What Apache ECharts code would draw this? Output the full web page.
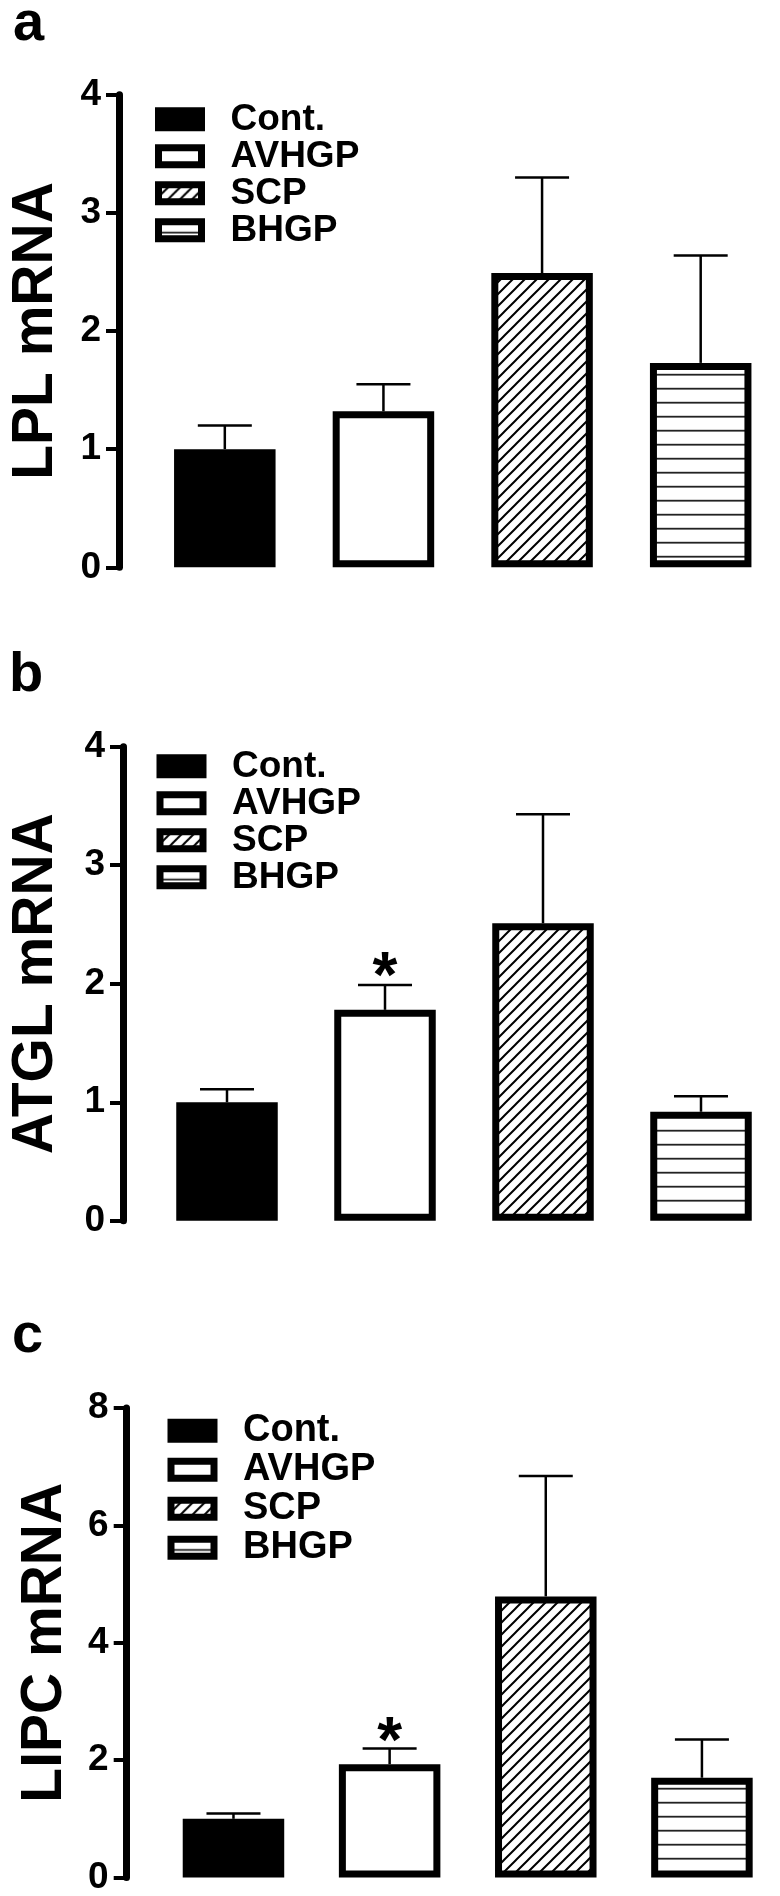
<!DOCTYPE html>
<html><head><meta charset="utf-8">
<script src="https://cdn.jsdelivr.net/npm/echarts@6/dist/echarts.min.js"></script>
<style>html,body{margin:0;padding:0;background:#fff}#c{width:780px;height:1896px}</style>
</head><body><div id="c"></div>
<script>
// ---- data ----
const categories = ['Cont.', 'AVHGP', 'SCP', 'BHGP'];
const panelLetters = ['a', 'b', 'c'];
const yTitles = ['LPL mRNA', 'ATGL mRNA', 'LIPC mRNA'];

const lplTicks = [0, 1, 2, 3, 4];
const lplMean = [1.0, 1.32, 2.49, 1.73];
const lplSem = [0.20, 0.23, 0.81, 0.91];
const lplSig = ['', '', '', ''];

const atglTicks = [0, 1, 2, 3, 4];
const atglMean = [1.0, 1.78, 2.51, 0.92];
const atglSem = [0.11, 0.21, 0.92, 0.13];
const atglSig = ['', '*', '', ''];

const lipcTicks = [0, 2, 4, 6, 8];
const lipcMean = [1.0, 1.93, 4.79, 1.70];
const lipcSem = [0.09, 0.27, 2.05, 0.65];
const lipcSig = ['', '*', '', ''];

// ---- styling ----
const FONT = '"Liberation Sans", Arial, Helvetica, sans-serif';

function diagPattern() {
  const s = 12, c = document.createElement('canvas');
  c.width = s; c.height = s;
  const g = c.getContext('2d');
  g.fillStyle = '#fff'; g.fillRect(0, 0, s, s);
  g.strokeStyle = '#000'; g.lineWidth = 2;
  g.beginPath();
  g.moveTo(-1, s + 1); g.lineTo(s + 1, -1);
  g.moveTo(-s / 2 - 1, s / 2 + 1); g.lineTo(s / 2 + 1, -s / 2 - 1);
  g.moveTo(s / 2 - 1, s * 1.5 + 1); g.lineTo(s * 1.5 + 1, s / 2 - 1);
  g.stroke();
  return c;
}
function horizPattern() {
  const c = document.createElement('canvas');
  c.width = 8; c.height = 14;
  const g = c.getContext('2d');
  g.fillStyle = '#fff'; g.fillRect(0, 0, 8, 14);
  g.fillStyle = '#222'; g.fillRect(0, 9.8, 8, 1.8);
  return c;
}
const fills = ['#000', '#fff',
  { image: diagPattern(), repeat: 'repeat' },
  { image: horizPattern(), repeat: 'repeat' }];

const panels = [
  { ticks: lplTicks, mean: lplMean, sem: lplSem, sig: lplSig,
    grid: { left: 136.25, top: 94.7, width: 650, height: 472.6 }, offset: 26.5, nameGap: 54,
    legend: { left: 155, top: 100.85, lh: 35, fs: 37 }, label: { x: 13, y: 25 }, starShift: 6 },
  { ticks: atglTicks, mean: atglMean, sem: atglSem, sig: atglSig,
    grid: { left: 145, top: 746.7, width: 652, height: 474.1 }, offset: 25, nameGap: 58,
    legend: { left: 156.5, top: 747.8, lh: 36, fs: 37 }, label: { x: 9, y: 676 }, starShift: 6 },
  { ticks: lipcTicks, mean: lipcMean, sem: lipcSem, sig: lipcSig,
    grid: { left: 155.4, top: 1408, width: 653, height: 474 }, offset: 28.7, nameGap: 53,
    legend: { left: 167.5, top: 1411.2, lh: 39, fs: 38 }, label: { x: 12, y: 1337 }, starShift: 4 }
];

const option = {
  animation: false,
  backgroundColor: '#fff',
  grid: [], xAxis: [], yAxis: [], legend: [], series: [], graphic: []
};

panels.forEach((p, i) => {
  option.grid.push(Object.assign({ containLabel: false }, p.grid));
  option.xAxis.push({
    type: 'category', gridIndex: i, data: categories,
    axisLine: { show: false }, axisTick: { show: false }, axisLabel: { show: false },
    splitLine: { show: false }
  });
  option.yAxis.push({
    type: 'value', gridIndex: i,
    min: p.ticks[0], max: p.ticks[p.ticks.length - 1], interval: p.ticks[1] - p.ticks[0],
    offset: p.offset,
    name: yTitles[i], nameLocation: 'middle', nameGap: p.nameGap, nameRotate: 90,
    nameTextStyle: { fontSize: 57, fontWeight: 'bold', color: '#000', fontFamily: FONT },
    axisLine: { show: true, lineStyle: { color: '#000', width: 7 } },
    axisTick: { show: true, length: 13, lineStyle: { color: '#000', width: 4 } },
    axisLabel: { fontSize: 37, fontWeight: 'bold', color: '#000', fontFamily: FONT, margin: 18 },
    splitLine: { show: false }
  });
  option.legend.push({
    data: categories, orient: 'vertical', left: p.legend.left, top: p.legend.top, padding: 0,
    icon: 'rect', itemWidth: 43, itemHeight: 17, itemGap: 0, selectedMode: false,
    itemStyle: { borderColor: '#000', borderWidth: 7 },
    textStyle: { fontSize: p.legend.fs, fontWeight: 'bold', color: '#000', fontFamily: FONT,
      lineHeight: p.legend.lh, padding: [0, 0, 0, 24] }
  });
  categories.forEach((cat, k) => {
    option.series.push({
      type: 'bar', name: cat, xAxisIndex: i, yAxisIndex: i,
      data: p.mean.map((v, j) => (j === k ? v : '-')),
      barWidth: 101.5, barGap: '-100%',
      itemStyle: { color: fills[k], borderColor: '#000', borderWidth: 7 },
      emphasis: { disabled: true }, silent: true
    });
  });
  const sig = p.sig, shift = p.starShift;
  option.series.push({
    type: 'custom', xAxisIndex: i, yAxisIndex: i, silent: true, z: 5,
    data: p.mean.map((m, j) => [j, m, m + p.sem[j]]),
    encode: { x: 0, y: [1, 2] },
    renderItem: (params, api) => {
      const j = api.value(0);
      const p0 = api.coord([j, api.value(1)]);
      const p1 = api.coord([j, api.value(2)]);
      const st = { stroke: '#000', lineWidth: 2.5 };
      const ch = [
        { type: 'line', shape: { x1: p0[0], y1: p0[1], x2: p1[0], y2: p1[1] }, style: st },
        { type: 'line', shape: { x1: p1[0] - 27, y1: p1[1], x2: p1[0] + 27, y2: p1[1] }, style: st }
      ];
      if (sig[j]) {
        ch.push({ type: 'text', style: { text: sig[j], x: p1[0], y: p1[1] - shift,
          font: 'bold 64px ' + FONT, fill: '#000', align: 'center', verticalAlign: 'middle' } });
      }
      return { type: 'group', children: ch };
    }
  });
  option.graphic.push({
    type: 'text', silent: true,
    style: { text: panelLetters[i], x: p.label.x, y: p.label.y, font: 'bold 56px ' + FONT,
      fill: '#000', align: 'left', verticalAlign: 'middle' }
  });
});

const chart = echarts.init(document.getElementById('c'), null, { renderer: 'canvas' });
chart.setOption(option);
</script>
</body></html>
